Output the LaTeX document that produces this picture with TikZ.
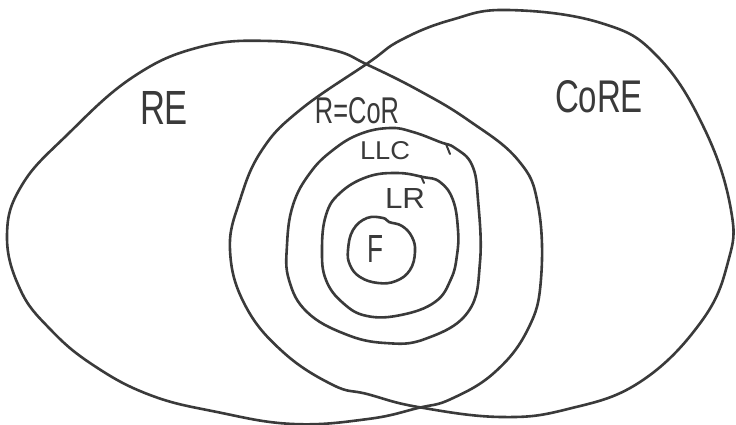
\documentclass[tikz,border=0pt]{standalone}
\usepackage{fontspec}
\setmainfont{Liberation Sans}
\definecolor{ink}{HTML}{3A3A3A}
\begin{document}
\begin{tikzpicture}[x=1pt,y=-1pt]
\tikzset{
  pen/.style={draw=ink, line width=2.6pt, line join=round, line cap=round},
  lbl/.style={inner sep=0pt, text=ink},
}
\useasboundingbox[fill=white] (0,0) rectangle (736,425);
% RE
\draw[pen] plot[smooth cycle, tension=0.7] coordinates {
  (7,235) (22,185) (67,135) (133,77) (200,47) (270,41) (333,50)
  (368,65) (418,90) (468,120) (518,160) (538,205) (541,279) (528,329)
  (495,372) (451,399) (418,408) (368,419) (293,424) (217,412) (150,395)
  (93,365) (50,329) (20,289)};
% CORE
\draw[pen] plot[smooth cycle, tension=0.7] coordinates {
  (230,250) (240,200) (262,150) (300,110) (368,63) (401,40) (451,20) (508,10)
  (601,23) (658,57) (705,130) (731,210) (728,262) (701,322) (640,382)
  (568,409) (501,417) (418,407) (367,394) (333,385) (283,352) (245,305)};
% LLC
\draw[pen] plot[smooth cycle, tension=0.7] coordinates {
  (287,245) (293,205) (310,173) (333,150) (360,134) (390,128) (413,132)
  (440,142) (455,148) (472,165) (478,200) (480,262) (468,312) (425,339)
  (385,343) (345,334) (307,312) (289,280)};
\draw[pen, line width=2pt] (446,144) -- (450,154);
% LR
\draw[pen] plot[smooth cycle, tension=0.7] coordinates {
  (322,250) (326,215) (340,193) (367,177) (397,173) (423,177) (440,182)
  (453,200) (458,230) (457,255) (451,279) (435,302) (401,315) (367,316)
  (343,303) (326,280)};
\draw[pen, line width=2pt] (421,176) -- (424,183);
% F
\draw[pen] plot[smooth cycle, tension=0.7] coordinates {
  (348,250) (353,230) (367,218) (383,218) (389,222) (402,226) (412,237)
  (415,252) (410,270) (396,281) (378,283) (360,277) (350,265)};
% labels
\node[lbl] (re)   at (164,108) {\resizebox{48pt}{33pt}{RE}};
\node[lbl] (core) at (599,97)  {\resizebox{88pt}{32pt}{CoRE}};
\node[lbl] (rcor) at (357,111) {\resizebox{84pt}{26pt}{R=CoR}};
\node[lbl] (llc)  at (385,151) {\resizebox{50pt}{18pt}{LLC}};
\node[lbl] (lr)   at (405,198) {\resizebox{40pt}{20pt}{LR}};
\node[lbl] (f)    at (375,249) {\resizebox{16pt}{27pt}{F}};
\end{tikzpicture}
\end{document}
